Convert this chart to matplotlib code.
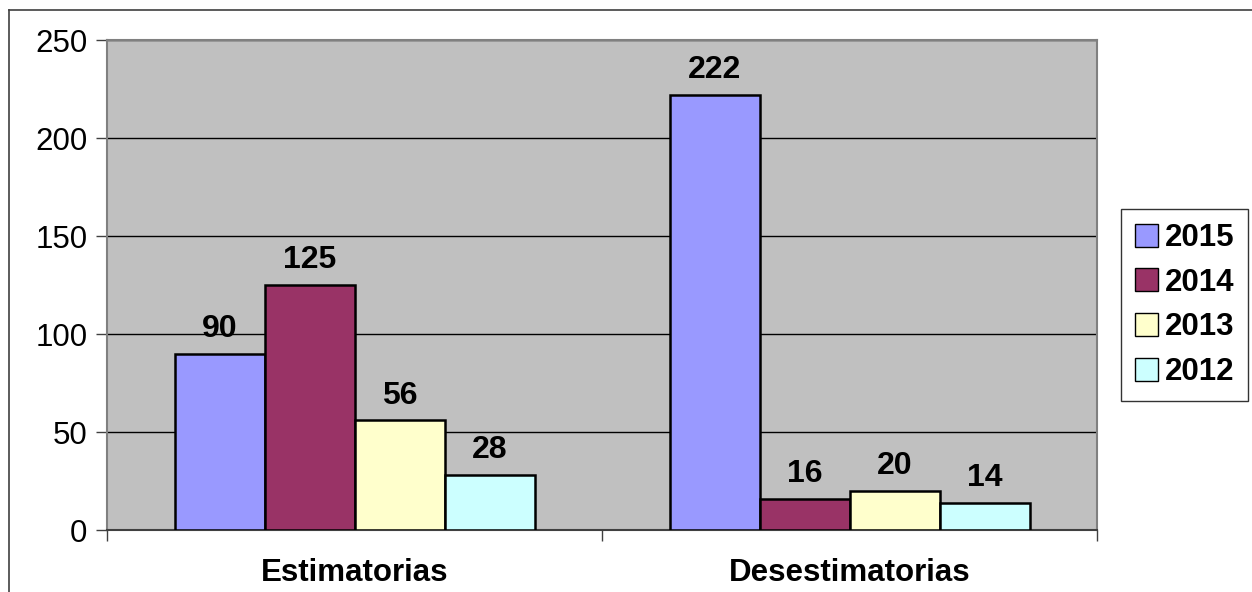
import matplotlib
matplotlib.use("Agg")
import matplotlib.pyplot as plt
from matplotlib.lines import Line2D
import numpy as np

categories = ["Estimatorias", "Desestimatorias"]
series_names = ["2015", "2014", "2013", "2012"]
values = {
    "2015": [90, 222],
    "2014": [125, 16],
    "2013": [56, 20],
    "2012": [28, 14],
}
colors = ["#9999FF", "#993366", "#FFFFCC", "#CCFFFF"]
yticks = [0, 50, 100, 150, 200, 250]

plt.rcParams['font.family'] = ['Liberation Sans', 'DejaVu Sans']

W, H = 1252, 592
fig = plt.figure(figsize=(W/100, H/100), dpi=100)
ax = fig.add_axes([107/W, 1-530/H, (1097-107)/W, (530-40)/H])
ax.set_facecolor("#C0C0C0")

x = np.arange(len(categories))
bw = 90/495
n = len(series_names)
for i, (name, c) in enumerate(zip(series_names, colors)):
    pos = x + (i - (n-1)/2) * bw
    vals = values[name]
    ax.bar(pos, vals, width=bw, color=c, edgecolor="black", linewidth=1.8,
           label=name, zorder=3)
    for p, v in zip(pos, vals):
        ax.annotate(str(v), (p, v), xytext=(0, 7), textcoords="offset points",
                    ha="center", va="bottom", fontsize=23, fontweight="bold",
                    zorder=4)

ax.set_xlim(-0.5, len(categories)-0.5)
ax.set_ylim(0, 250)
ax.set_yticks(yticks)
ax.set_yticklabels([str(t) for t in yticks], fontsize=22.5)
ax.yaxis.grid(True, color="black", linewidth=1, zorder=1)
ax.set_axisbelow(True)

ax.set_xticks(x)
ax.set_xticklabels(categories, fontsize=22.5, fontweight="bold")
ax.tick_params(axis="x", length=0, pad=20)
# category boundary ticks
ax.set_xticks(np.arange(-0.5, len(categories)), minor=True)
ax.tick_params(axis="x", which="minor", length=8, width=1, color="#404040", direction="out")
ax.tick_params(axis="y", length=8, width=1, color="#404040", direction="out", pad=6)

for s in ["left", "right", "top"]:
    ax.spines[s].set_color("#808080")
    ax.spines[s].set_linewidth(1.5)
ax.spines["bottom"].set_color("#404040")
ax.spines["bottom"].set_linewidth(1.5)

leg = ax.legend(loc="upper left", bbox_to_anchor=(1121/W, 1-209/H),
                bbox_transform=fig.transFigure, prop={"size": 22.5, "weight": "bold"},
                frameon=True, fancybox=False, edgecolor="black",
                handlelength=0.72, handleheight=0.75, handletextpad=0.22,
                borderpad=0.45, labelspacing=0.47, borderaxespad=0)
leg.get_frame().set_linewidth(1)
for h in leg.legend_handles:
    h.set_linewidth(1)

# outer chart frame (left and top edges visible)
fig.add_artist(Line2D([9/W, 9/W], [0, 1-10/H], transform=fig.transFigure,
                      color="#404040", linewidth=1.2))
fig.add_artist(Line2D([9/W, 1], [1-10/H, 1-10/H], transform=fig.transFigure,
                      color="#404040", linewidth=1.2))

fig.savefig("out.png", dpi=100)
